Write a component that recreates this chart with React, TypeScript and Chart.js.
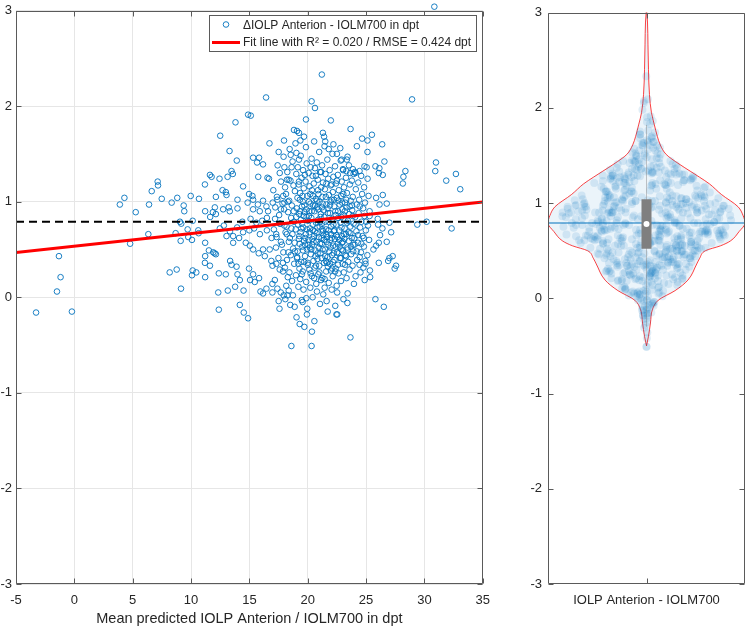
import React, { useEffect, useRef } from 'react';
import { Chart, registerables } from 'chart.js';

Chart.register(...registerables);

// ---------- data ----------
const xTicks = [-5, 0, 5, 10, 15, 20, 25, 30, 35];
const yTicks = [-3, -2, -1, 0, 1, 2, 3];
const xRange = [-5, 35];
const yRange = [-3, 3];

const xTitle = 'Mean predicted IOLP Anterion / IOLM700 in dpt';
const violinCategory = 'IOLP Anterion - IOLM700';
const legendLabels = ['ΔIOLP Anterion - IOLM700 in dpt', 'Fit line with R² = 0.020 / RMSE = 0.424 dpt'];

const meanDelta = 0.79;
const fitIntercept = 0.535;
const fitSlope = 0.0132;

// [mean predicted IOLP (dpt), ΔIOLP Anterion - IOLM700 (dpt)]
const deltaPoints: [number, number][] = [
  [-3.28, -0.16], [-0.21, -0.15], [-1.49, 0.06], [-1.18, 0.21], [-1.32, 0.43],
  [3.9, 0.97], [4.29, 1.04], [4.78, 0.56], [5.26, 0.89], [6.34, 0.66], [6.4, 0.97], [6.63, 1.11], [7.14, 1.21], [7.17, 1.17], [7.49, 1.03],
  [8.17, 0.26], [8.34, 0.99], [8.77, 0.29], [8.82, 1.04], [8.68, 0.67], [9.14, 0.09], [9.11, 0.59], [9.05, 0.79], [9.16, 0.77], [9.37, 0.96], [9.42, 0.9],
  [9.71, 0.71], [9.76, 0.63], [9.97, 1.06], [10.08, 0.6], [10.14, 0.8], [10.14, 0.28], [10.08, 0.23], [10.45, 0.26], [10.62, 0.7], [10.68, 1.03], [10.65, 0.67],
  [11.19, 1.18], [11.21, 0.9], [11.21, 0.57], [11.21, 0.43], [11.21, 0.21],
  [21.21, 2.33], [16.43, 2.09], [14.89, 1.91], [15.12, 1.9], [20.33, 2.05], [20.62, 1.98], [19.85, 1.86], [13.81, 1.83], [12.5, 1.69],
  [18.82, 1.75], [19.08, 1.74], [19.25, 1.72], [19.37, 1.64], [19.68, 1.68], [16.72, 1.61], [17.97, 1.64], [17.51, 1.52], [13.3, 1.53], [13.92, 1.43],
  [15.32, 1.46], [15.83, 1.46], [15.66, 1.41], [16.17, 1.39], [18.54, 1.49], [19.03, 1.51], [18.62, 1.36], [18.0, 1.36], [18.22, 1.23], [18.37, 1.23], [17.6, 1.3], [19.25, 1.44],
  [16.55, 1.25], [16.68, 1.24], [15.76, 1.26], [13.47, 1.32], [13.58, 1.29], [13.13, 1.26], [11.62, 1.28], [11.76, 1.26], [12.44, 1.24], [14.46, 1.16], [12.13, 1.05],
  [12.7, 1.12], [12.98, 1.1], [13.04, 1.07], [13.98, 1.02], [14.97, 1.08], [15.26, 1.06],
  [12.04, 0.94], [11.87, 0.89], [11.64, 0.84], [12.13, 0.87], [12.75, 0.92], [13.23, 0.94], [13.32, 0.9], [13.98, 0.93],
  [11.53, 0.49], [11.9, 0.47], [12.02, 0.46],
  [12.38, 0.25], [12.33, 0.05], [12.38, -0.13], [12.98, 0.24], [13.15, 0.07], [13.35, 0.38], [13.47, 0.34],
  [13.9, 0.32], [13.98, 0.24], [14.18, 0.18], [14.18, -0.08], [14.5, 0.07], [13.78, 0.11], [14.52, -0.16], [14.89, -0.22],
  [14.97, 0.3], [15.32, 0.24], [15.06, 0.18], [15.46, 0.16], [15.83, 0.2],
  [15.95, 0.06], [16.17, 0.04], [16.46, 0.09], [16.97, 0.14], [16.97, 0.05],
  [17.51, -0.04], [17.94, 0.02], [18.37, 0.07], [18.26, 0.02],
  [18.6, -0.51], [19.31, -0.28], [19.93, -0.18], [20.36, -0.36], [20.33, -0.51],
  [18.88, -0.1], [19.56, -0.05], [19.88, -0.01], [21.62, -0.04], [22.53, -0.18],
  [11.19, 0.36], [11.62, 0.33], [12.13, 0.45],
  [12.47, 0.72], [12.81, 0.75], [13.04, 0.64], [13.33, 0.69], [13.61, 0.64], [13.61, 0.57], [13.95, 0.73], [14.12, 0.62], [14.46, 0.68], [14.69, 0.57],
  [15.04, 0.54], [15.32, 0.5], [15.8, 0.46], [16.17, 0.5], [16.32, 0.43], [16.74, 0.5], [16.88, 0.38], [17.31, 0.35], [17.6, 0.29], [17.88, 0.36],
  [14.85, 0.99], [15.32, 1.02], [15.73, 0.97], [16.17, 1.01], [16.46, 0.95], [15.32, 0.92], [15.89, 0.9], [16.6, 0.9], [17.0, 0.99], [17.4, 1.02], [17.9, 1.06], [18.0, 0.99], [17.7, 0.92],
  [14.4, 0.79], [15.1, 0.82], [15.6, 0.78], [16.1, 0.8], [16.5, 0.83], [17.2, 0.82], [17.6, 0.77], [18.0, 0.75],
  [15.0, 0.7], [15.4, 0.72], [15.9, 0.66], [16.5, 0.7], [16.9, 0.62], [17.3, 0.66], [17.7, 0.58], [18.2, 0.66],
  [28.94, 2.07], [21.98, 1.85], [23.67, 1.76], [25.5, 1.7], [24.66, 1.66], [25.12, 1.64],
  [26.38, 1.6], [24.21, 1.58], [22.79, 1.56], [25.12, 1.52], [23.41, 1.47], [22.9, 1.44], [23.35, 1.44],
  [26.57, 1.42], [25.8, 1.37], [26.14, 1.35], [24.86, 1.37], [25.05, 1.36], [26.09, 1.3], [26.43, 1.28], [24.44, 1.32], [24.1, 1.3], [23.87, 1.34], [23.02, 1.34], [23.31, 1.32], [23.64, 1.3], [23.93, 1.29],
  [28.37, 1.32], [28.2, 1.26], [28.15, 1.19],
  [30.99, 1.41], [30.93, 1.32], [31.87, 1.22], [32.7, 1.29], [33.07, 1.13],
  [25.86, 1.04], [26.43, 1.07], [26.15, 0.97], [26.77, 0.98],
  [29.39, 0.76], [30.19, 0.79], [32.33, 0.72], [26.03, 0.76], [27.0, 0.78],
  [27.15, 0.68], [26.77, 0.58], [26.09, 0.57], [25.86, 0.54], [25.63, 0.5], [26.09, 0.36], [27.0, 0.41], [27.28, 0.43], [27.45, 0.3], [27.57, 0.33], [26.89, 0.38],
  [24.95, 0.35], [24.44, 0.34], [25.35, 0.21], [25.8, -0.02], [26.52, -0.1], [23.06, -0.02], [23.4, -0.06], [22.46, -0.18], [23.66, -0.42], [22.52, 0.05],
  [26.2, 0.65], [26.4, 0.72], [26.0, 0.82], [25.0, 0.79], [25.3, 0.85],
  [30.85, 3.04],
  [17.05, 1.12], [17.22, 0.94], [17.1, 0.71], [17.28, 0.52], [16.98, 0.33], [17.18, 0.18],
  [17.42, 1.38], [17.36, 1.05], [17.55, 0.86], [17.33, 0.63], [17.49, 0.41], [17.4, 0.09], [17.58, -0.12],
  [17.71, 1.21], [17.84, 0.98], [17.66, 0.77], [17.79, 0.55], [17.88, 0.27], [17.69, 0.05],
  [17.93, 1.47], [18.06, 1.15], [17.98, 0.92], [18.1, 0.68], [17.91, 0.47], [18.04, 0.31], [18.08, -0.02],
  [18.25, 1.31], [18.14, 1.08], [18.32, 0.89], [18.19, 0.74], [18.38, 0.58], [18.22, 0.39], [18.29, 0.21], [18.16, 0.12],
  [18.45, 1.55], [18.52, 1.22], [18.41, 1.01], [18.58, 0.83], [18.47, 0.62], [18.55, 0.44], [18.43, 0.26], [18.5, -0.08],
  [18.7, 1.42], [18.78, 1.17], [18.64, 0.96], [18.82, 0.79], [18.69, 0.66], [18.75, 0.51], [18.84, 0.35], [18.66, 0.17], [18.73, 0.02],
  [18.95, 1.61], [19.02, 1.29], [18.9, 1.11], [19.06, 0.93], [18.97, 0.71], [18.88, 0.57], [19.08, 0.41], [18.99, 0.23], [19.04, -0.21],
  [19.15, 1.36], [19.22, 1.18], [19.12, 1.04], [19.27, 0.87], [19.18, 0.76], [19.24, 0.61], [19.13, 0.48], [19.29, 0.3], [19.2, 0.11],
  [19.4, 1.48], [19.47, 1.25], [19.35, 1.09], [19.51, 0.95], [19.42, 0.81], [19.38, 0.68], [19.53, 0.53], [19.44, 0.37], [19.36, 0.19], [19.49, -0.03],
  [19.6, 1.33], [19.66, 1.14], [19.58, 1.0], [19.73, 0.89], [19.62, 0.73], [19.69, 0.59], [19.77, 0.43], [19.57, 0.27], [19.64, 0.08], [19.71, -0.31],
  [19.85, 1.57], [19.91, 1.4], [19.82, 1.21], [19.97, 1.06], [19.88, 0.92], [20.02, 0.8], [19.84, 0.66], [19.94, 0.5], [20.0, 0.34], [19.87, 0.16], [19.96, -0.12],
  [20.08, 1.3], [20.15, 1.16], [20.24, 0.98], [20.1, 0.85], [20.2, 0.72], [20.06, 0.6], [20.27, 0.45], [20.13, 0.29], [20.22, 0.1],
  [20.33, 1.45], [20.41, 1.27], [20.36, 1.12], [20.47, 0.96], [20.31, 0.83], [20.44, 0.7], [20.38, 0.55], [20.49, 0.38], [20.35, 0.22], [20.42, 0.0],
  [20.55, 1.63], [20.62, 1.35], [20.52, 1.19], [20.69, 1.03], [20.58, 0.9], [20.71, 0.78], [20.54, 0.64], [20.66, 0.49], [20.6, 0.31], [20.73, 0.14], [20.57, -0.25],
  [20.78, 1.41], [20.86, 1.23], [20.92, 1.08], [20.8, 0.94], [20.89, 0.81], [20.76, 0.67], [20.94, 0.52], [20.83, 0.4], [20.9, 0.24], [20.79, 0.06],
  [20.98, 1.52], [21.06, 1.31], [21.15, 1.15], [21.01, 1.0], [21.12, 0.87], [21.03, 0.74], [21.18, 0.62], [21.09, 0.46], [20.99, 0.33], [21.14, 0.18], [21.05, -0.07],
  [21.23, 1.38], [21.31, 1.2], [21.26, 1.05], [21.37, 0.91], [21.22, 0.77], [21.34, 0.65], [21.28, 0.5], [21.39, 0.36], [21.25, 0.2], [21.33, 0.03],
  [21.44, 1.58], [21.52, 1.29], [21.47, 1.13], [21.6, 0.97], [21.42, 0.84], [21.56, 0.71], [21.63, 0.58], [21.49, 0.43], [21.58, 0.27], [21.45, 0.1],
  [21.68, 1.44], [21.75, 1.24], [21.82, 1.07], [21.7, 0.93], [21.79, 0.79], [21.66, 0.63], [21.84, 0.48], [21.73, 0.32], [21.8, 0.15], [21.71, -0.15],
  [21.88, 1.33], [21.96, 1.17], [22.04, 1.02], [21.9, 0.88], [22.0, 0.74], [21.93, 0.6], [22.07, 0.44], [21.98, 0.28], [22.05, 0.08],
  [22.12, 1.5], [22.2, 1.26], [22.15, 1.1], [22.27, 0.95], [22.11, 0.82], [22.24, 0.69], [22.18, 0.54], [22.29, 0.39], [22.14, 0.22],
  [22.34, 1.37], [22.42, 1.19], [22.5, 1.04], [22.37, 0.9], [22.46, 0.76], [22.32, 0.61], [22.52, 0.47], [22.4, 0.3], [22.48, 0.12], [22.36, -0.09],
  [22.58, 1.28], [22.66, 1.12], [22.74, 0.97], [22.6, 0.83], [22.7, 0.7], [22.57, 0.56], [22.77, 0.41], [22.64, 0.25],
  [22.83, 1.43], [22.91, 1.21], [22.86, 1.06], [22.97, 0.92], [22.81, 0.78], [22.94, 0.64], [22.88, 0.5], [22.99, 0.35], [22.85, 0.17],
  [23.03, 1.33], [23.11, 1.15], [23.2, 0.99], [23.06, 0.86], [23.16, 0.72], [23.01, 0.58], [23.22, 0.44], [23.09, 0.26],
  [23.28, 1.25], [23.36, 1.09], [23.31, 0.94], [23.44, 0.8], [23.27, 0.66], [23.4, 0.52], [23.47, 0.37], [23.33, 0.2], [23.42, 0.04],
  [23.53, 1.38], [23.61, 1.18], [23.68, 1.01], [23.56, 0.87], [23.65, 0.74], [23.52, 0.59], [23.72, 0.45], [23.58, 0.29],
  [23.78, 1.22], [23.86, 1.05], [23.81, 0.91], [23.93, 0.77], [23.77, 0.62], [23.9, 0.48], [23.84, 0.33], [23.96, 0.14],
  [24.04, 1.31], [24.12, 1.13], [24.2, 0.97], [24.07, 0.84], [24.17, 0.69], [24.02, 0.55], [24.24, 0.39], [24.1, 0.22],
  [24.33, 1.2], [24.41, 1.02], [24.36, 0.88], [24.49, 0.73], [24.31, 0.57], [24.45, 0.42], [24.52, 0.26],
  [24.58, 1.27], [24.66, 1.08], [24.74, 0.93], [24.6, 0.79], [24.7, 0.64], [24.56, 0.47], [24.77, 0.31],
  [24.83, 1.15], [24.91, 0.99], [24.86, 0.85], [24.98, 0.7], [24.81, 0.53], [24.94, 0.38], [24.88, 0.18],
  [25.13, 1.24], [25.21, 1.06], [25.3, 0.9], [25.16, 0.75], [25.26, 0.6], [25.11, 0.44], [25.33, 0.28],
  [19.02, 0.84], [19.28, 0.64], [19.33, 1.02], [19.52, 0.77], [19.71, 0.96], [19.77, 0.55], [19.93, 0.71], [20.12, 0.9], [20.18, 0.52], [20.22, 1.08],
  [20.4, 0.61], [20.44, 0.76], [20.62, 0.96], [20.66, 0.43], [20.83, 0.73], [20.88, 1.12], [21.05, 0.56], [21.1, 0.84], [21.28, 0.98], [21.31, 0.69],
  [21.5, 0.79], [21.55, 0.38], [21.73, 0.88], [21.77, 0.55], [21.95, 1.0], [21.98, 0.66], [22.2, 0.76], [22.22, 0.46], [22.4, 0.86], [22.45, 0.65],
  [22.63, 1.01], [22.7, 0.6], [22.88, 0.84], [22.93, 0.57], [23.1, 0.66], [23.18, 0.9], [23.38, 0.78], [23.42, 0.5], [23.6, 0.95], [23.65, 0.67],
  [23.85, 0.85], [23.9, 0.55], [24.1, 0.76], [24.2, 0.48], [19.1, 0.42], [19.5, 0.24], [20.0, 0.36], [20.55, 0.2], [21.0, 0.26], [21.45, 0.19],
  [21.9, 0.35], [22.35, 0.27], [22.85, 0.41], [19.25, 1.21], [19.75, 1.28], [20.25, 1.36], [20.7, 1.27], [21.15, 1.31], [21.6, 1.19], [22.05, 1.18],
  [22.5, 1.22], [23.05, 1.08], [19.55, 1.06], [20.9, 0.92], [21.3, 1.72], [21.4, 1.68], [21.5, 1.63], [21.8, 1.55], [22.2, 1.6], [22.5, 1.5],
  [19.3, 0.56], [19.45, 0.72], [19.6, 0.49], [19.8, 0.62], [19.9, 0.84], [20.05, 0.55], [20.15, 0.68], [20.3, 0.5], [20.35, 0.9], [20.5, 0.58],
  [20.6, 0.69], [20.75, 0.58], [20.85, 0.46], [20.95, 0.63], [21.05, 0.79], [21.2, 0.56], [21.25, 0.71], [21.4, 0.6], [21.5, 0.5], [21.6, 0.66],
  [21.7, 0.42], [21.8, 0.7], [21.95, 0.52], [22.05, 0.62], [22.15, 0.37], [22.3, 0.7], [22.4, 0.53], [22.55, 0.63], [22.65, 0.46], [22.75, 0.53],
  [22.9, 0.73], [23.0, 0.49], [23.15, 0.61], [23.3, 0.43], [23.5, 0.68], [23.7, 0.53], [19.35, 0.9], [19.65, 0.85], [20.1, 1.0], [20.45, 1.06],
  [20.8, 1.01], [21.2, 0.94], [21.55, 1.05], [21.9, 0.96], [22.25, 1.02], [22.6, 0.9], [22.95, 0.99], [23.3, 1.02], [19.2, 0.35], [19.7, 0.37],
  [20.25, 0.25], [20.7, 0.33], [21.2, 0.41], [21.65, 0.36], [22.1, 0.3], [22.6, 0.34], [23.2, 0.34], [18.6, 0.72], [18.9, 0.48], [18.35, 0.47],
  [18.8, 0.9], [18.3, 1.0], [24.3, 0.65], [24.6, 0.56], [24.0, 0.62], [24.8, 0.62], [23.8, 0.96], [24.45, 0.95],
];

// violin outline: half width (fraction of panel half width) at ΔIOLP levels
const violinLevels = [-0.5, -0.4, -0.26, -0.12, -0.02, 0.08, 0.19, 0.36, 0.42, 0.5, 0.55, 0.6, 0.7, 0.79, 0.87, 0.96, 1.09, 1.2, 1.27, 1.33, 1.41, 1.51, 1.61, 1.7, 1.82, 1.95, 2.14, 2.4, 2.66, 2.9, 3.05];
const violinHalfWidths = [0, 0.02, 0.04, 0.06, 0.12, 0.29, 0.42, 0.51, 0.54, 0.6, 0.75, 0.85, 0.94, 1.0, 0.98, 0.93, 0.76, 0.64, 0.54, 0.45, 0.33, 0.2, 0.14, 0.11, 0.08, 0.05, 0.03, 0.02, 0.015, 0.01, 0];
const boxQ1 = 0.52;
const boxQ3 = 1.04;
const boxMedian = 0.78;
const whiskerLow = -0.3;
const whiskerHigh = 1.82;

// ---------- style ----------
const FONT = '"Liberation Sans", Arial, Helvetica, sans-serif';
const AXIS_COLOR = '#5a5a5a';
const TEXT_COLOR = '#262626';
const GRID_COLOR = '#e6e6e6';
const BLUE = '#0072BD';
const TICK_FONT = { family: FONT, size: 13, lineHeight: 1 };

Chart.defaults.font.family = FONT;

function halfWidthAt(v: number): number {
  const n = violinLevels.length;
  if (v <= violinLevels[0] || v >= violinLevels[n - 1]) return 0;
  for (let i = 1; i < n; i++) {
    if (v <= violinLevels[i]) {
      const t = (v - violinLevels[i - 1]) / (violinLevels[i] - violinLevels[i - 1]);
      return violinHalfWidths[i - 1] + t * (violinHalfWidths[i] - violinHalfWidths[i - 1]);
    }
  }
  return 0;
}

function axesBoxPlugin(xVals: number[], yVals: number[]) {
  return {
    id: 'axesBox',
    afterDatasetsDraw(chart: any) {
      const { ctx, chartArea: a, scales } = chart;
      const L = Math.round(a.left) + 0.5;
      const R = Math.round(a.right) - 0.5;
      const T = Math.round(a.top) + 0.5;
      const B = Math.round(a.bottom) - 0.5;
      ctx.save();
      ctx.strokeStyle = AXIS_COLOR;
      ctx.lineWidth = 1;
      ctx.beginPath();
      ctx.moveTo(L, T); ctx.lineTo(R, T); ctx.lineTo(R, B); ctx.lineTo(L, B); ctx.closePath();
      const tl = 5;
      for (const xv of xVals) {
        const px = Math.round(scales.x.getPixelForValue(xv)) + 0.5;
        ctx.moveTo(px, B); ctx.lineTo(px, B - tl);
        ctx.moveTo(px, T); ctx.lineTo(px, T + tl);
      }
      for (const yv of yVals) {
        const py = Math.round(scales.y.getPixelForValue(yv)) + 0.5;
        ctx.moveTo(L, py); ctx.lineTo(L + tl, py);
        ctx.moveTo(R, py); ctx.lineTo(R - tl, py);
      }
      ctx.stroke();
      ctx.restore();
    },
  };
}

const legendPlugin = {
  id: 'insideLegend',
  afterDraw(chart: any) {
    const { ctx, chartArea: a } = chart;
    const width = 267;
    const height = 36;
    const right = Math.round(a.right) - 7;
    const left = right - width;
    const top = Math.round(a.top) + 4;
    ctx.save();
    ctx.fillStyle = '#ffffff';
    ctx.fillRect(left, top, width, height);
    ctx.strokeStyle = AXIS_COLOR;
    ctx.lineWidth = 1;
    ctx.strokeRect(left + 0.5, top + 0.5, width, height);
    const r1 = top + 9.5;
    const r2 = top + 27.5;
    ctx.beginPath();
    ctx.arc(left + 17, r1, 2.8, 0, Math.PI * 2);
    ctx.strokeStyle = BLUE;
    ctx.lineWidth = 0.9;
    ctx.stroke();
    ctx.beginPath();
    ctx.moveTo(left + 3, r2);
    ctx.lineTo(left + 31, r2);
    ctx.strokeStyle = '#ff0000';
    ctx.lineWidth = 3;
    ctx.stroke();
    ctx.fillStyle = TEXT_COLOR;
    ctx.font = `12px ${FONT}`;
    ctx.textAlign = 'left';
    ctx.textBaseline = 'middle';
    ctx.fillText(legendLabels[0], left + 34, r1 + 1);
    ctx.fillText(legendLabels[1], left + 34, r2);
    ctx.restore();
  },
};

function ScatterPanel() {
  const ref = useRef<HTMLCanvasElement>(null);
  useEffect(() => {
    const chart = new Chart(ref.current as HTMLCanvasElement, {
      type: 'scatter',
      data: {
        datasets: [
          {
            label: 'fit',
            data: [
              { x: xRange[0], y: fitIntercept + fitSlope * xRange[0] },
              { x: xRange[1], y: fitIntercept + fitSlope * xRange[1] },
            ],
            showLine: true,
            borderColor: '#ff0000',
            borderWidth: 3,
            pointRadius: 0,
          },
          {
            label: 'mean',
            data: [
              { x: xRange[0], y: meanDelta },
              { x: xRange[1], y: meanDelta },
            ],
            showLine: true,
            borderColor: '#000000',
            borderWidth: 2,
            borderDash: [8, 5],
            pointRadius: 0,
          },
          {
            label: legendLabels[0],
            data: deltaPoints.map(([x, y]) => ({ x, y })),
            pointRadius: 2.8,
            pointBorderWidth: 0.9,
            pointBorderColor: BLUE,
            pointBackgroundColor: 'rgba(0,0,0,0)',
            clip: false as any,
          },
        ],
      } as any,
      options: {
        animation: false,
        responsive: false,
        maintainAspectRatio: false,
        events: [],
        layout: { padding: { top: 7, right: 16, left: 0, bottom: 0 } },
        plugins: { legend: { display: false }, tooltip: { enabled: false } },
        scales: {
          x: {
            type: 'linear',
            min: xRange[0],
            max: xRange[1],
            afterBuildTicks: (s: any) => { s.ticks = xTicks.map((v) => ({ value: v })); },
            afterFit: (s: any) => { s.height = 44; },
            ticks: { font: TICK_FONT, color: TEXT_COLOR, padding: 10, maxRotation: 0, autoSkip: false },
            grid: { color: GRID_COLOR, drawTicks: false },
            border: { display: false },
            title: { display: true, text: xTitle, color: TEXT_COLOR, font: { family: FONT, size: 14.5 }, padding: { top: 0, bottom: 0 } },
          },
          y: {
            type: 'linear',
            min: yRange[0],
            max: yRange[1],
            afterBuildTicks: (s: any) => { s.ticks = yTicks.map((v) => ({ value: v })); },
            afterFit: (s: any) => { s.width = 16; },
            ticks: { font: TICK_FONT, color: TEXT_COLOR, padding: 4, autoSkip: false },
            grid: { color: GRID_COLOR, drawTicks: false },
            border: { display: false },
          },
        },
      } as any,
      plugins: [axesBoxPlugin(xTicks, yTicks), legendPlugin],
    });
    return () => chart.destroy();
  }, []);
  return (
    <canvas
      ref={ref}
      width={500}
      height={628}
      style={{ position: 'absolute', left: 0, top: 0, width: 500, height: 628 }}
    />
  );
}

function ViolinPanel() {
  const ref = useRef<HTMLCanvasElement>(null);
  useEffect(() => {
    const jitterPts = deltaPoints.map(([x, y]) => {
      const frac = (x * 7.31 + y * 3.17) % 1;
      const u = 2 * (frac < 0 ? frac + 1 : frac) - 1;
      return { x: u * 0.9 * halfWidthAt(y), y };
    });
    const chart = new Chart(ref.current as HTMLCanvasElement, {
      type: 'line',
      data: {
        datasets: [
          {
            label: 'median',
            data: [{ x: 0, y: boxMedian }],
            showLine: false,
            pointRadius: 3,
            pointBorderWidth: 0,
            pointBackgroundColor: '#ffffff',
          },
          {
            label: 'box',
            data: [{ x: 0, y: boxQ1 }, { x: 0, y: boxQ3 }],
            borderColor: '#7f7f7f',
            borderWidth: 10,
            borderCapStyle: 'butt',
            pointRadius: 0,
          },
          {
            label: 'mean',
            data: [{ x: -1, y: meanDelta }, { x: 1, y: meanDelta }],
            borderColor: BLUE,
            borderWidth: 1.2,
            pointRadius: 0,
          },
          {
            label: 'whisker',
            data: [{ x: 0, y: whiskerLow }, { x: 0, y: whiskerHigh }],
            borderColor: 'rgba(128,128,128,0.45)',
            borderWidth: 1,
            pointRadius: 0,
          },
          {
            label: 'points',
            data: jitterPts,
            showLine: false,
            pointRadius: 4,
            pointBorderWidth: 0,
            pointBackgroundColor: 'rgba(0,114,189,0.12)',
          },
          {
            label: 'violinRight',
            data: violinLevels.map((v, i) => ({ x: violinHalfWidths[i], y: v })),
            borderColor: 'rgba(255,0,0,0.75)',
            borderWidth: 1,
            pointRadius: 0,
            cubicInterpolationMode: 'monotone',
            fill: '+1',
            backgroundColor: 'rgba(0,114,189,0.08)',
          },
          {
            label: 'violinLeft',
            data: violinLevels.map((v, i) => ({ x: -violinHalfWidths[i], y: v })),
            borderColor: 'rgba(255,0,0,0.75)',
            borderWidth: 1,
            pointRadius: 0,
            cubicInterpolationMode: 'monotone',
            fill: false,
          },
        ],
      } as any,
      options: {
        indexAxis: 'y',
        animation: false,
        responsive: false,
        maintainAspectRatio: false,
        events: [],
        layout: { padding: { top: 7, right: 2, left: 0, bottom: 0 } },
        plugins: { legend: { display: false }, tooltip: { enabled: false } },
        scales: {
          x: {
            type: 'linear',
            min: -1,
            max: 1,
            afterBuildTicks: (s: any) => { s.ticks = [{ value: 0 }]; },
            afterFit: (s: any) => { s.height = 44; },
            ticks: { font: TICK_FONT, color: TEXT_COLOR, padding: 10, maxRotation: 0, autoSkip: false, callback: () => violinCategory },
            grid: { display: false, drawTicks: false },
            border: { display: false },
          },
          y: {
            type: 'linear',
            min: yRange[0],
            max: yRange[1],
            afterBuildTicks: (s: any) => { s.ticks = yTicks.map((v) => ({ value: v })); },
            afterFit: (s: any) => { s.width = 28; },
            ticks: { font: TICK_FONT, color: TEXT_COLOR, padding: 6, autoSkip: false },
            grid: { display: false, drawTicks: false },
            border: { display: false },
          },
        },
      } as any,
      plugins: [axesBoxPlugin([0], yTicks)],
    });
    return () => chart.destroy();
  }, []);
  return (
    <canvas
      ref={ref}
      width={229}
      height={628}
      style={{ position: 'absolute', left: 520, top: 0, width: 229, height: 628 }}
    />
  );
}

export default function App() {
  return (
    <div style={{ position: 'absolute', left: 0, top: 0, width: 749, height: 628, background: '#ffffff', overflow: 'hidden' }}>
      <ScatterPanel />
      <ViolinPanel />
    </div>
  );
}
